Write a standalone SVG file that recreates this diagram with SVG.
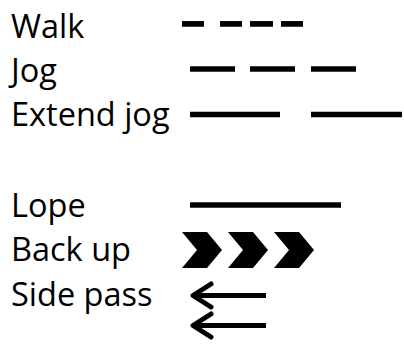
<svg xmlns="http://www.w3.org/2000/svg" width="404" height="347" viewBox="0 0 404 347">
  <style>
    .lbl { font-family: "Open Sans", "Noto Sans", sans-serif; font-size: 32.5px; fill: #000; }
    .bar { stroke: #000; stroke-width: 5.7; fill: none; }
    .chev { fill: #000; }
    .arr { stroke: #000; stroke-width: 5; fill: none; stroke-linecap: round; stroke-linejoin: round; }
  </style>
  <defs>
    <path id="chevron" d="M0,0 H25 L40,18 L25,36 H0 L15,18 Z"/>
    <g id="sidearrow">
      <path d="M193,0 H266" class="arr" style="stroke-linecap:butt"/>
      <path d="M211,-11.5 L193,0 L211,11.5" class="arr"/>
    </g>
  </defs>
  <rect width="404" height="347" fill="#fff"/>

  <g id="walk">
    <text class="lbl" x="11" y="38">Walk</text>
    <line class="bar" x1="182" y1="23.9" x2="204" y2="23.9"/>
    <line class="bar" x1="220" y1="23.9" x2="242" y2="23.9"/>
    <line class="bar" x1="250" y1="23.9" x2="273" y2="23.9"/>
    <line class="bar" x1="281" y1="23.9" x2="303" y2="23.9"/>
  </g>

  <g id="jog">
    <text class="lbl" x="11" y="82">Jog</text>
    <line class="bar" x1="190" y1="69" x2="235" y2="69"/>
    <line class="bar" x1="250" y1="69" x2="295" y2="69"/>
    <line class="bar" x1="311" y1="69" x2="356" y2="69"/>
  </g>

  <g id="extend-jog">
    <text class="lbl" x="11" y="126">Extend jog</text>
    <line class="bar" x1="190" y1="114.5" x2="280" y2="114.5"/>
    <line class="bar" x1="311" y1="114.5" x2="402" y2="114.5"/>
  </g>

  <g id="lope">
    <text class="lbl" x="11" y="217">Lope</text>
    <line class="bar" x1="190" y1="205" x2="341" y2="205"/>
  </g>

  <g id="back-up">
    <text class="lbl" x="11" y="261">Back up</text>
    <use href="#chevron" class="chev" x="182" y="232"/>
    <use href="#chevron" class="chev" x="228" y="232"/>
    <use href="#chevron" class="chev" x="274" y="232"/>
  </g>

  <g id="side-pass">
    <text class="lbl" x="11" y="306">Side pass</text>
    <use href="#sidearrow" y="295.5"/>
    <use href="#sidearrow" y="325.5"/>
  </g>
</svg>
